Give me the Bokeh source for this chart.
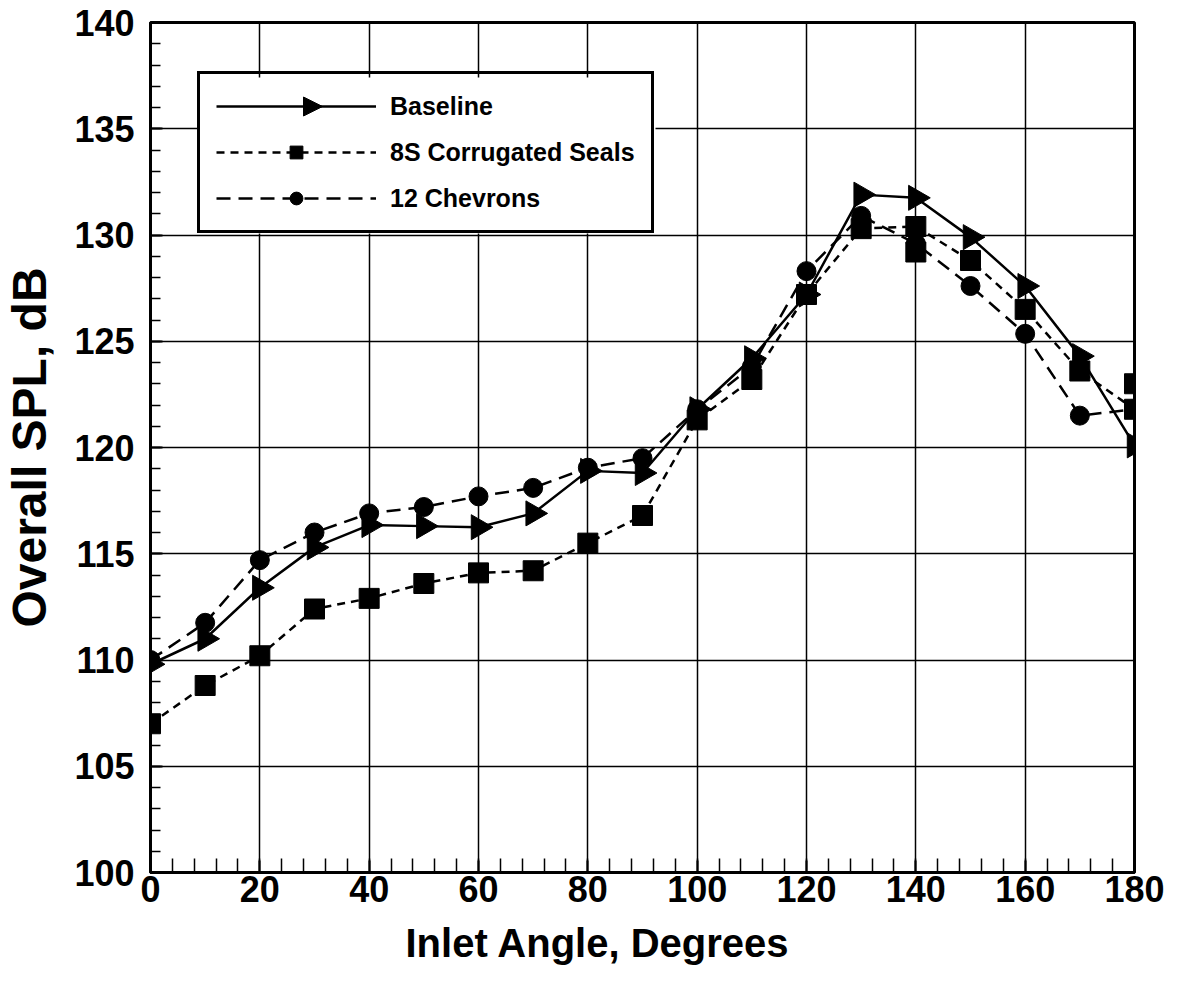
import numpy as np
from bokeh.plotting import figure
from bokeh.models import (Legend, LegendItem, FixedTicker, Range1d, PolyAnnotation, Title,
                          BoxAnnotation)
from bokeh.embed import file_html
from bokeh.resources import INLINE

# ---- data ----
angles = [0, 10, 20, 30, 40, 50, 60, 70, 80, 90, 100, 110, 120, 130, 140, 150, 160, 170, 180]
baseline = [109.8, 111.0, 113.4, 115.3, 116.35, 116.3, 116.25, 116.9, 118.9, 118.8, 121.8,
            124.2, 127.2, 131.9, 131.75, 129.9, 127.6, 124.3, 120.1]
seals_8s = [107.0, 108.8, 110.2, 112.4, 112.9, 113.6, 114.1, 114.2, 115.5, 116.8, 121.3,
            123.2, 127.2, 130.3, 130.4, 128.8, 126.5, 123.6, 121.8]
chevrons = [110.0, 111.75, 114.7, 116.0, 116.9, 117.2, 117.7, 118.1, 119.05, 119.5, 121.8,
            123.8, 128.3, 130.9, 129.6, 127.6, 125.35, 121.5, 121.8]
seals_extra_x = [140, 180]
seals_extra_y = [129.2, 123.0]

x_ticks = [0, 20, 40, 60, 80, 100, 120, 140, 160, 180]
y_ticks = [100, 105, 110, 115, 120, 125, 130, 135, 140]
x_minor = list(range(0, 181, 4))
y_minor = list(range(100, 141, 1))

FONT = "Liberation Sans"

p = figure(width=1164, height=980, output_backend="svg", toolbar_location=None,
           x_range=Range1d(0, 180), y_range=Range1d(100, 140),
           min_border_left=148, min_border_right=30, min_border_top=22, min_border_bottom=108)
p.background_fill_color = "white"
p.border_fill_color = "white"
p.outline_line_color = "black"
p.outline_line_width = 3
p.outline_line_alpha = 1.0

# grid
for g in (p.xgrid, p.ygrid):
    g.grid_line_color = "black"
    g.grid_line_width = 1.5
    g.grid_line_alpha = 1.0
p.xgrid.ticker = FixedTicker(ticks=x_ticks)
p.ygrid.ticker = FixedTicker(ticks=y_ticks)

# axes
p.xaxis.ticker = FixedTicker(ticks=x_ticks, minor_ticks=x_minor)
p.yaxis.ticker = FixedTicker(ticks=y_ticks, minor_ticks=y_minor)
for ax in (p.xaxis[0], p.yaxis[0]):
    ax.axis_line_width = 3
    ax.axis_line_color = "black"
    ax.major_tick_in = 12
    ax.major_tick_out = 0
    ax.major_tick_line_width = 2
    ax.minor_tick_out = 0
    ax.minor_tick_line_width = 1.5
    ax.major_label_text_font = FONT
    ax.major_label_text_font_style = "bold"
    ax.major_label_text_font_size = "36px"
    ax.major_label_text_color = "black"
    ax.axis_label_text_font = FONT
    ax.axis_label_text_font_style = "bold"
    ax.axis_label_text_color = "black"
p.xaxis.minor_tick_in = 14
p.yaxis.minor_tick_in = 10
p.xaxis.major_label_standoff = 3
p.yaxis.major_label_standoff = 16
p.yaxis.axis_label = "Overall SPL, dB"
p.yaxis.axis_label_text_font_size = "48px"
p.yaxis.axis_label_standoff = 15

# x-axis title placed below, shifted left as in the reference
xt = Title(text="Inlet Angle, Degrees", align="left", offset=255, standoff=28,
           text_font=FONT, text_font_style="bold", text_font_size="40px", text_color="black")
p.add_layout(xt, "below")

# white backing for the legend (hides the grid under it)
backing = BoxAnnotation(left=47, right=505, bottom=639, top=795,
                        left_units="screen", right_units="screen",
                        bottom_units="screen", top_units="screen",
                        fill_color="white", fill_alpha=1.0, line_alpha=0)
backing.level = "underlay"
p.add_layout(backing)

# series
l_base = p.line(angles, baseline, line_color="black", line_width=2.5)
s_base = p.scatter(angles, baseline, marker="triangle", angle=-np.pi / 2, size=25,
                   fill_color="black", line_color="black")

l_seal = p.line(angles, seals_8s, line_color="black", line_width=2.5, line_dash="8 6")
s_seal = p.scatter(angles, seals_8s, marker="square", size=20,
                   fill_color="black", line_color="black")
p.scatter(seals_extra_x, seals_extra_y, marker="square", size=20,
          fill_color="black", line_color="black")

l_chev = p.line(angles, chevrons, line_color="black", line_width=2.5, line_dash="14 8")
s_chev = p.scatter(angles, chevrons, marker="circle", size=19,
                   fill_color="black", line_color="black")

legend = Legend(items=[
    LegendItem(label="Baseline", renderers=[l_base]),
    LegendItem(label="8S Corrugated Seals", renderers=[l_seal, s_seal]),
    LegendItem(label="12 Chevrons", renderers=[l_chev, s_chev]),
], location=(47, 639))
legend.margin = 0
legend.padding = 16
legend.glyph_width = 160
legend.glyph_height = 32
legend.label_height = 32
legend.spacing = 14
legend.label_standoff = 14
legend.label_text_font = FONT
legend.label_text_font_style = "bold"
legend.label_text_font_size = "25px"
legend.label_text_color = "black"
legend.border_line_color = "black"
legend.border_line_width = 3
legend.border_line_alpha = 1.0
legend.background_fill_alpha = 0.0
p.add_layout(legend, "center")

# right-pointing triangle for the Baseline legend entry (legend glyphs ignore marker angle)
tri = PolyAnnotation(xs=[153, 153, 172], ys=[775.5, 756.5, 766],
                     xs_units="screen", ys_units="screen",
                     fill_color="black", fill_alpha=1.0, line_color="black", line_alpha=1.0,
                     line_width=1)
tri.level = "annotation"
p.add_layout(tri)

open("out.html", "w").write(file_html(p, INLINE))
